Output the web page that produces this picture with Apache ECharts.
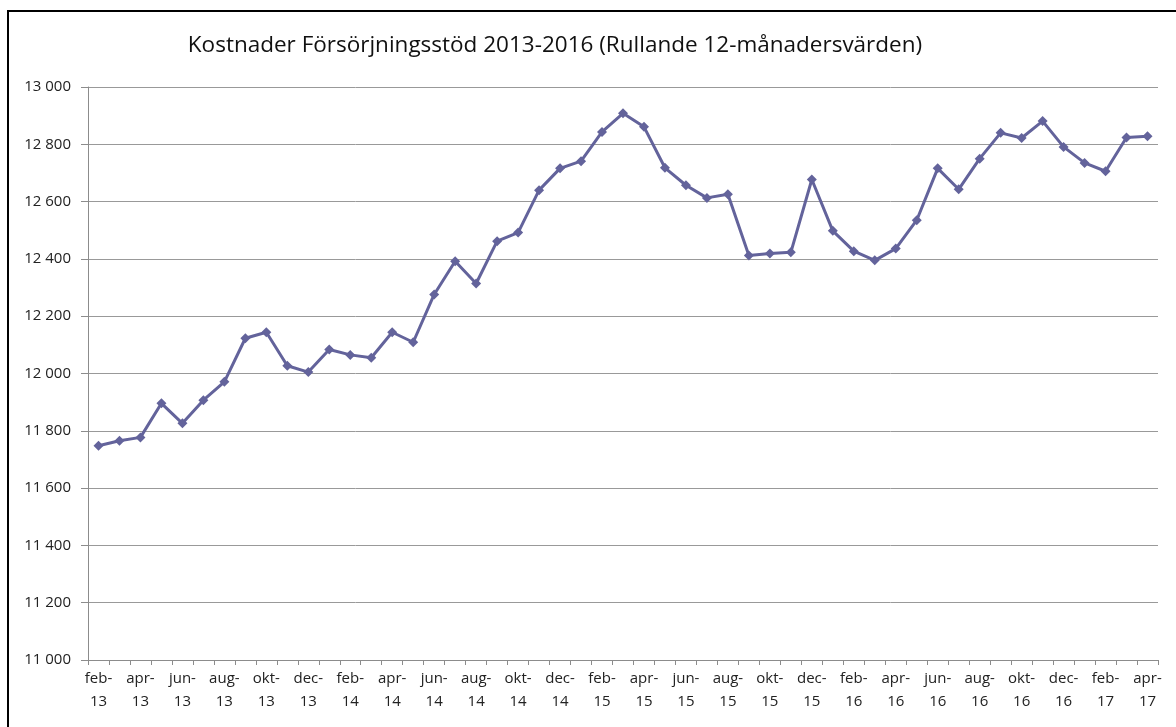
<!DOCTYPE html>
<html lang="sv">
<head>
    <meta charset="UTF-8">
    <title>Kostnader Försörjningsstöd</title>
    <script src="https://cdn.jsdelivr.net/npm/echarts@6/dist/echarts.min.js"></script>
    <style>
        html, body { margin: 0; padding: 0; background: #fff; overflow: hidden; }
        #frame {
            position: absolute; left: 7px; top: 10px;
            width: 1300px; height: 900px;
            border: 2px solid #000;
        }
        #main { position: absolute; left: 0; top: 0; width: 1176px; height: 727px; }
    </style>
</head>
<body>
    <div id="frame"></div>
    <div id="main"></div>
    <script type="text/javascript">
        // månader feb-13 .. apr-17
        var months = ['jan', 'feb', 'mar', 'apr', 'maj', 'jun', 'jul', 'aug', 'sep', 'okt', 'nov', 'dec'];
        var categories = [];
        for (var y = 13; y <= 17; y++) {
            for (var m = 0; m < 12; m++) {
                if (y === 13 && m < 1) continue;
                if (y === 17 && m > 3) continue;
                categories.push(months[m] + '-\n' + y);
            }
        }

        var kostnad = [
            11748, 11765, 11777, 11896, 11826, 11907, 11971, 12123, 12144, 12027, 12005,
            12084, 12065, 12055, 12144, 12109, 12276, 12392, 12314, 12462, 12492, 12640, 12716,
            12741, 12843, 12908, 12861, 12718, 12657, 12613, 12626, 12412, 12419, 12423, 12677,
            12498, 12427, 12395, 12436, 12535, 12716, 12643, 12750, 12840, 12822, 12881, 12791,
            12735, 12706, 12824, 12828
        ];

        var yMin = 11000, yMax = 13000, yStep = 200;
        var lineColor = '#63639b';

        var myChart = echarts.init(document.getElementById('main'), null, { renderer: 'canvas' });

        var option = {
            animation: false,
            textStyle: { fontFamily: 'Open Sans, sans-serif' },
            title: {
                text: 'Kostnader Försörjningsstöd 2013-2016 (Rullande 12-månadersvärden)',
                left: 550,
                top: 29,
                textAlign: 'center',
                textStyle: { fontSize: 22.5, fontWeight: 'normal', color: '#111', fontFamily: 'Open Sans, sans-serif' }
            },
            grid: { left: 88, right: 18, top: 87, bottom: 67, containLabel: false },
            xAxis: {
                type: 'category',
                data: categories,
                boundaryGap: true,
                axisLine: { lineStyle: { color: '#8c8c8c', width: 1 } },
                axisTick: { show: true, interval: 0, length: 5, lineStyle: { color: '#8c8c8c' } },
                axisLabel: {
                    interval: 1,
                    color: '#222',
                    fontSize: 15,
                    lineHeight: 23,
                    margin: 7
                },
                splitLine: { show: false }
            },
            yAxis: {
                type: 'value',
                min: yMin,
                max: yMax,
                interval: yStep,
                axisLine: { show: true, lineStyle: { color: '#8c8c8c', width: 1 } },
                axisTick: { show: true, length: 7, lineStyle: { color: '#8c8c8c' } },
                axisLabel: {
                    color: '#222',
                    fontSize: 15,
                    margin: 17,
                    formatter: function (v) {
                        return String(v).replace(/\B(?=(\d{3})+(?!\d))/g, ' ');
                    }
                },
                splitLine: { show: true, lineStyle: { color: '#999', width: 1 } }
            },
            series: [{
                name: 'Kostnader',
                type: 'line',
                data: kostnad,
                symbol: 'diamond',
                symbolSize: 10,
                lineStyle: { color: lineColor, width: 3 },
                itemStyle: { color: lineColor },
                emphasis: { disabled: true }
            }]
        };
        myChart.setOption(option);
    </script>
</body>
</html>
